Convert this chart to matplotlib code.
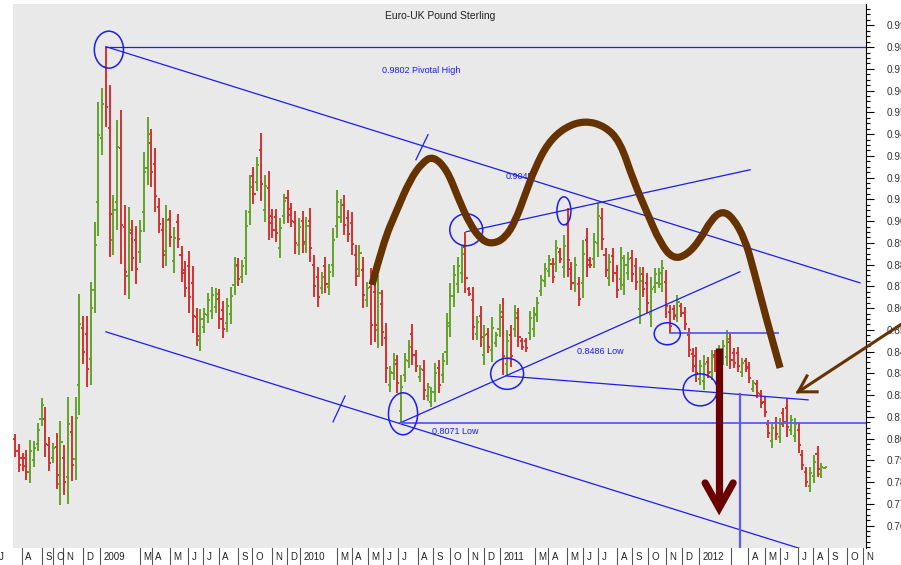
import numpy as np
import matplotlib
matplotlib.use("Agg")
import matplotlib.pyplot as plt
import matplotlib.transforms as mtransforms
from matplotlib.collections import LineCollection
from matplotlib.patches import Ellipse, PathPatch
from matplotlib.path import Path
from matplotlib.ticker import FixedLocator, MultipleLocator, FormatStrFormatter

plt.rcParams['font.family'] = ['Liberation Sans', 'DejaVu Sans']

# weekly EUR/GBP bars, Jul 2008 - Aug 2012
opens = [.7996, .7944, .7913, .7913, .7846, .7900, .7975, .8090, .8088, .7969,
         .7911, .7962, .7792, .7913, .7823, .8029, .7906, .8248, .8509, .8482,
         .8366, .8683, .9086, .9382, .9710, .9429, .8914, .9087, .9335, .8971,
         .8749, .8947, .8911, .8858, .9043, .9245, .9358, .9263, .9067, .8957,
         .8864, .9009, .8815, .8995, .8845, .8776, .8792, .8717, .8557, .8451,
         .8515, .8567, .8588, .8607, .8643, .8590, .8530, .8571, .8705, .8799,
         .8743, .8828, .9041, .9207, .9178, .9328, .9051, .9152, .9023, .9019,
         .8877, .9023, .9106, .9056, .8998, .8888, .8999, .8896, .8999, .8797,
         .8744, .8691, .8794, .8697, .8800, .8978, .9020, .9075, .9015, .8993,
         .8844, .8781, .8777, .8635, .8696, .8676, .8501, .8619, .8463, .8245,
         .8301, .8341, .8126, .8294, .8357, .8481, .8383, .8281, .8316, .8194,
         .8169, .8214, .8324, .8291, .8399, .8530, .8654, .8712, .8760, .8881,
         .8688, .8637, .8482, .8563, .8385, .8480, .8405, .8439, .8506, .8558,
         .8345, .8475, .8505, .8556, .8449, .8447, .8487, .8503, .8566, .8680,
         .8726, .8769, .8802, .8804, .8860, .8789, .8982, .8781, .8715, .8710,
         .8714, .8913, .8823, .8825, .8898, .9013, .8844, .8739, .8838, .8761,
         .8734, .8707, .8762, .8831, .8794, .8594, .8755, .8716, .8572, .8699,
         .8716, .8712, .8721, .8583, .8598, .8568, .8608, .8579, .8476, .8389,
         .8382, .8276, .8264, .8352, .8305, .8383, .8345, .8368, .8376, .8444,
         .8394, .8393, .8306, .8355, .8329, .8229, .8249, .8203, .8169, .8065,
         .7987, .8073, .8009, .8119, .8142, .8040, .8013, .8041, .7925, .7847,
         .7784, .7828, .7930, .7836, .7863]
highs = [.8022, .7976, .7934, .7948, .7994, .7989, .8072, .8187, .8146, .8008,
         .7980, .8026, .8081, .7971, .8192, .8104, .8192, .8666, .8564, .8564,
         .8721, .8997, .9549, .9613, .9802, .9627, .9121, .9466, .9512, .9075,
         .9066, .9006, .8978, .9006, .9319, .9480, .9425, .9337, .9107, .9015,
         .9075, .9052, .8974, .9034, .8886, .8817, .8863, .8794, .8601, .8597,
         .8601, .8670, .8698, .8693, .8689, .8633, .8647, .8698, .8836, .8831,
         .8822, .9052, .9213, .9250, .9296, .9406, .9213, .9231, .9057, .9057,
         .9015, .9126, .9144, .9084, .9047, .9015, .9047, .9020, .9061, .8845,
         .8790, .8767, .8836, .8804, .8969, .9144, .9103, .9121, .9052, .9043,
         .8891, .8891, .8836, .8721, .8785, .8753, .8753, .8684, .8532, .8334,
         .8394, .8385, .8293, .8394, .8454, .8528, .8408, .8339, .8362, .8256,
         .8238, .8348, .8362, .8394, .8578, .8716, .8799, .8836, .8891, .8951,
         .8698, .8698, .8564, .8610, .8523, .8509, .8560, .8491, .8620, .8647,
         .8500, .8523, .8615, .8601, .8463, .8463, .8587, .8606, .8652, .8753,
         .8808, .8845, .8831, .8914, .8877, .8937, .9061, .8813, .8836, .8744,
         .8914, .8969, .8836, .8946, .9084, .9061, .8877, .8850, .8877, .8799,
         .8882, .8845, .8859, .8868, .8831, .8790, .8790, .8762, .8744, .8785,
         .8785, .8822, .8776, .8615, .8615, .8661, .8624, .8606, .8509, .8417,
         .8422, .8362, .8385, .8376, .8408, .8408, .8431, .8454, .8500, .8486,
         .8417, .8422, .8371, .8371, .8353, .8270, .8270, .8224, .8192, .8086,
         .8077, .8100, .8095, .8141, .8187, .8109, .8095, .8077, .7948, .7870,
         .7870, .7925, .7966, .7888, .7870]
lows = [.7916, .7847, .7851, .7810, .7796, .7870, .7943, .8058, .7916, .7851,
        .7888, .7769, .7695, .7741, .7700, .7805, .7810, .8109, .8344, .8238,
        .8247, .8578, .8932, .9305, .9434, .8836, .8845, .8960, .8804, .8661,
        .8643, .8771, .8712, .8808, .8951, .9167, .9158, .9043, .8946, .8785,
        .8794, .8882, .8762, .8877, .8721, .8652, .8578, .8486, .8426, .8403,
        .8486, .8532, .8551, .8578, .8505, .8463, .8491, .8528, .8661, .8702,
        .8716, .8753, .8983, .9080, .9139, .9093, .8997, .8914, .8923, .8905,
        .8831, .8988, .8992, .8974, .8850, .8845, .8854, .8854, .8813, .8652,
        .8606, .8666, .8670, .8661, .8744, .8923, .8992, .8937, .8905, .8845,
        .8702, .8744, .8601, .8606, .8431, .8445, .8417, .8426, .8256, .8215,
        .8270, .8210, .8071, .8261, .8325, .8339, .8307, .8261, .8178, .8173,
        .8146, .8169, .8210, .8256, .8339, .8468, .8606, .8670, .8716, .8670,
        .8656, .8454, .8454, .8422, .8339, .8394, .8353, .8422, .8468, .8293,
        .8293, .8330, .8468, .8422, .8408, .8399, .8454, .8468, .8537, .8656,
        .8698, .8744, .8716, .8767, .8808, .8739, .8744, .8684, .8675, .8610,
        .8647, .8744, .8785, .8785, .8836, .8868, .8744, .8702, .8721, .8647,
        .8684, .8661, .8730, .8721, .8684, .8528, .8652, .8578, .8514, .8670,
        .8693, .8675, .8555, .8486, .8546, .8537, .8560, .8500, .8376, .8307,
        .8261, .8247, .8224, .8279, .8270, .8307, .8316, .8339, .8334, .8320,
        .8325, .8307, .8284, .8307, .8256, .8215, .8187, .8141, .8100, .8003,
        .7957, .7994, .7980, .8054, .8008, .8017, .7985, .7934, .7856, .7778,
        .7755, .7796, .7824, .7819, .7861]
closes = [.7942, .7879, .7872, .7845, .7944, .7959, .8040, .8155, .7974, .7890,
          .7957, .7833, .7984, .7799, .8069, .7880, .8096, .8527, .8399, .8320,
          .8602, .8892, .9395, .9536, .9526, .9034, .9052, .9339, .8981, .8765,
          .8960, .8830, .8779, .8956, .9227, .9402, .9225, .9117, .8986, .8843,
          .9005, .8925, .8921, .8916, .8762, .8693, .8649, .8563, .8470, .8549,
          .8572, .8635, .8661, .8664, .8551, .8506, .8608, .8655, .8792, .8734,
          .8795, .8977, .9155, .9123, .9257, .9171, .9159, .8993, .8957, .8943,
          .8969, .9091, .9030, .9002, .8899, .8972, .8902, .8978, .8875, .8700,
          .8652, .8742, .8712, .8768, .8913, .9089, .9075, .8983, .8942, .8895,
          .8749, .8854, .8660, .8692, .8520, .8522, .8669, .8491, .8325, .8304,
          .8363, .8254, .8238, .8361, .8422, .8386, .8332, .8319, .8224, .8235,
          .8215, .8303, .8248, .8359, .8518, .8654, .8751, .8794, .8847, .8740,
          .8666, .8515, .8536, .8469, .8477, .8423, .8508, .8474, .8582, .8382,
          .8448, .8378, .8578, .8467, .8422, .8415, .8554, .8571, .8623, .8729,
          .8780, .8820, .8745, .8877, .8825, .8887, .8823, .8716, .8796, .8644,
          .8847, .8800, .8798, .8906, .9022, .8916, .8777, .8813, .8760, .8685,
          .8832, .8799, .8827, .8758, .8721, .8724, .8687, .8624, .8686, .8756,
          .8762, .8785, .8610, .8518, .8563, .8630, .8576, .8527, .8409, .8335,
          .8301, .8333, .8345, .8303, .8373, .8332, .8402, .8425, .8458, .8362,
          .8348, .8336, .8349, .8323, .8280, .8256, .8208, .8162, .8123, .8024,
          .8047, .8021, .8066, .8076, .8053, .8086, .8067, .7970, .7879, .7801,
          .7841, .7893, .7860, .7871, .7868]

# month cells along the bottom (left edge in bar units)
month_labels = ['J', 'A', 'S', 'O', 'N', 'D',
                '2009', 'M', 'A', 'M', 'J', 'J', 'A', 'S', 'O', 'N', 'D',
                '2010', 'M', 'A', 'M', 'J', 'J', 'A', 'S', 'O', 'N', 'D',
                '2011', 'M', 'A', 'M', 'J', 'J', 'A', 'S', 'O', 'N', 'D',
                '2012', '', 'A', 'M', 'J', 'J', 'A', 'S', 'O', 'N']
month_starts = [-5.3, 1.85, 7.13, 10.04, 12.68, 17.97,
                22.46, 33.03, 36.2, 40.95, 45.71, 49.67, 53.9, 58.92, 62.62, 67.9, 71.86,
                75.3, 85.07, 89.04, 93.26, 97.23, 101.19, 106.47, 110.44, 114.93, 119.68, 123.91,
                128.14, 137.38, 140.82, 145.84, 150.07, 154.03, 159.05, 163.01, 167.24, 171.99, 176.22,
                180.71, 189.17, 193.66, 198.15, 202.11, 206.87, 210.83, 214.8, 219.82, 224.04]

price_ticks = [0.76, 0.77, 0.78, 0.79, 0.80, 0.81, 0.82, 0.83, 0.84, 0.85, 0.86, 0.87,
               0.88, 0.89, 0.90, 0.91, 0.92, 0.93, 0.94, 0.95, 0.96, 0.97, 0.98, 0.99]

assert len(opens) == len(highs) == len(lows) == len(closes)
n = len(opens)
idx = np.arange(n)
o = np.array(opens); h = np.array(highs); l = np.array(lows); c = np.array(closes)
up = c > o

fig = plt.figure(figsize=(9.01, 5.65), dpi=100)
ax = fig.add_axes([13/901, 17/565, 853/901, 544/565])
ax.set_facecolor('#e9e9e9')
ax.set_xlim(-0.53, 224.8)
ax.set_ylim(0.7497, 0.9998)

# OHLC bars
tk = 0.55
for mask, col in [(up, '#64a22a'), (~up, '#d43030')]:
    segs = []
    for i in idx[mask]:
        segs.append([(i, l[i]), (i, h[i])])
        segs.append([(i - tk, o[i]), (i, o[i])])
        segs.append([(i, c[i]), (i + tk, c[i])])
    ax.add_collection(LineCollection(segs, colors=col, linewidths=1.4, zorder=2))

blue = '#1c1cf0'
lblue = '#5a5aff'
# pivot high and descending channel
piv = 24
ax.plot([piv, 224.8], [0.9802, 0.9802], color=blue, lw=0.9, zorder=3)
ax.plot([piv, 223.2], [0.9802, 0.8716], color=blue, lw=0.9, zorder=3)
ax.plot([piv, 215], [0.8491, 0.7453], color=blue, lw=0.9, zorder=3)
ax.plot([105.9, 109.1], [0.9282, 0.9397], color=blue, lw=0.9, zorder=3)
ax.plot([84.0, 87.2], [0.8077, 0.8196], color=blue, lw=0.9, zorder=3)
# rising channel
ax.plot([101.7, 191.5], [0.8072, 0.8767], color=blue, lw=0.9, zorder=3)
ax.plot([119.2, 194.2], [0.8951, 0.9236], color=blue, lw=0.9, zorder=3)
ax.plot([129.7, 209.5], [0.8288, 0.8178], color=blue, lw=0.9, zorder=3)
# support levels
ax.plot([102, 224.8], [0.8071, 0.8071], color=lblue, lw=1.3, zorder=3)
ax.plot([173, 201.6], [0.8486, 0.8486], color=lblue, lw=1.3, zorder=3)
ax.plot([191.5, 191.5], [0.8206, 0.70], color=lblue, lw=1.6, zorder=3)

ells = [(24.8, 0.9788, 7.7, 0.0170), (119.2, 0.8960, 8.7, 0.0147),
        (145.0, 0.9047, 3.7, 0.0129), (130.0, 0.8298, 8.7, 0.0143),
        (102.5, 0.8114, 7.7, 0.0193), (172.3, 0.8482, 6.9, 0.0101),
        (181.0, 0.8224, 9.0, 0.0147)]
for ex, ey, ew, eh in ells:
    ax.add_patch(Ellipse((ex, ey), ew, eh, fill=False, edgecolor=blue, lw=1.1, zorder=4))

tkw = dict(color=blue, fontsize=6.5, va='center', ha='left', zorder=3)
ax.text(97.0, 0.9691, '0.9802 Pivotal High', **tkw)
ax.text(129.5, 0.9204, '0.9045', **tkw)
ax.text(148.5, 0.8399, '0.8486 Low', **tkw)
ax.text(110.2, 0.8031, '0.8071 Low', **tkw)

# hand-drawn pattern outline (smoothed through midpoints)
curve_x = [94.32, 97.23, 100.92, 104.36, 107.53, 110.44, 114.13, 117.04, 120.21, 123.38,
           126.29, 129.46, 132.10, 134.74, 137.38, 140.82, 145.31, 150.59, 155.88, 159.84,
           163.28, 166.97, 170.41, 173.84, 177.54, 180.98, 183.88, 186.79, 189.70, 192.87,
           194.98, 198.41, 202.11]
curve_y = [.8707, .8900, .9052, .9190, .9268, .9300, .9236, .9107, .8983, .8910,
           .8895, .8923, .8997, .9121, .9245, .9360, .9432, .9462, .9436, .9365,
           .9190, .9038, .8900, .8825, .8845, .8914, .9006, .9048, .9015, .8914,
           .8785, .8555, .8325]
brown = '#663300'
verts = [(curve_x[0], curve_y[0])]
codes = [Path.MOVETO]
for k in range(1, len(curve_x) - 1):
    verts += [(curve_x[k], curve_y[k]),
              ((curve_x[k] + curve_x[k + 1]) / 2, (curve_y[k] + curve_y[k + 1]) / 2)]
    codes += [Path.CURVE3, Path.CURVE3]
verts.append((curve_x[-1], curve_y[-1]))
codes.append(Path.LINETO)
ax.add_patch(PathPatch(Path(verts, codes), fill=False, edgecolor=brown, lw=5.2,
                       capstyle='butt', joinstyle='round', zorder=5))

# down arrow
dred = '#6b0000'
ax.plot([186.0, 186.0], [0.8417, 0.7700], color=dred, lw=5.2, solid_capstyle='butt', zorder=6)
ax.plot([182.3, 186.0, 189.7], [0.7796, 0.7681, 0.7796], color=dred, lw=5.2,
        solid_capstyle='round', solid_joinstyle='miter', zorder=6)

# pointer arrow from the right
ax.plot([235.1, 206.9], [0.8537, 0.8215], color=brown, lw=2.2, clip_on=False, zorder=6)
ax.plot([209.2, 206.9, 211.9], [0.8288, 0.8215, 0.8215], color=brown, lw=2.2,
        solid_joinstyle='miter', zorder=6)

# axes styling
for s in ['left', 'top', 'bottom']:
    ax.spines[s].set_visible(False)
ax.spines['right'].set_color('black')
ax.spines['right'].set_linewidth(0.8)
ax.yaxis.tick_right()
ax.yaxis.set_major_locator(FixedLocator(price_ticks))
ax.yaxis.set_minor_locator(MultipleLocator(0.0025))
ax.yaxis.set_major_formatter(FormatStrFormatter('%.2f'))
ax.tick_params(axis='y', which='major', length=6, width=0.8, pad=9,
               labelsize=7.2, labelcolor='#333333')
ax.tick_params(axis='y', which='minor', length=3, width=0.8)
ax.set_xticks([])

# month row
trans = mtransforms.blended_transform_factory(ax.transData, ax.transAxes)
row_h = 17 / 544
for pos, lab in zip(month_starts, month_labels):
    ax.plot([pos, pos], [0, -row_h], transform=trans, clip_on=False,
            color='#555555', lw=0.8)
    ax.text(pos + 0.9, -row_h * 0.5, lab, transform=trans, fontsize=7,
            ha='left', va='center', color='#222222', clip_on=False)

fig.text(440 / 901, 1 - 16 / 565, 'Euro-UK Pound Sterling', ha='center', va='center',
         fontsize=7.5, color='#222222')

fig.savefig('out.png', dpi=100)
